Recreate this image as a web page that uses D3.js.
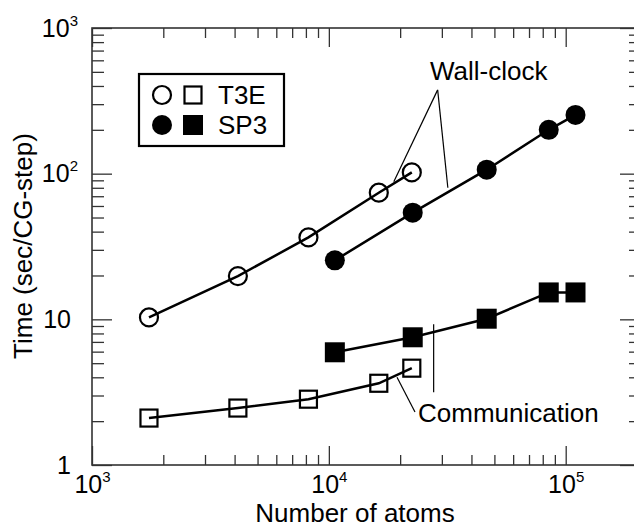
<!DOCTYPE html>
<html>
<head>
<meta charset="utf-8">
<script src="https://cdn.jsdelivr.net/npm/d3@7"></script>
<style>
  body { margin: 0; background: #fff; }
  text { font-family: "Liberation Sans", Arial, Helvetica, sans-serif; fill: #000; }
</style>
</head>
<body>
<div id="chart"></div>
<script>
// data
const t3eAtoms = [1740, 4130, 8200, 16250, 22400];
const t3eWall = [10.3, 19.8, 36.5, 74, 102];
const t3eComm = [2.1, 2.46, 2.83, 3.64, 4.62];
const sp3Atoms = [10600, 22600, 46400, 84800, 110000];
const sp3Wall = [25.4, 54, 106.5, 200, 253];
const sp3Comm = [5.94, 7.53, 10.1, 15.3, 15.3];
const xMajor = [1e3, 1e4, 1e5];
const yMajor = [1, 10, 100, 1000];
const legendNames = ["T3E", "SP3"];

const W = 634, H = 529;
const margin = {top: 28, right: -3, bottom: 64, left: 92};
const width = W - margin.left - margin.right,
      height = H - margin.top - margin.bottom;

const svg = d3.select("#chart").append("svg")
    .attr("width", W).attr("height", H)
    .style("display", "block");

const g = svg.append("g")
    .attr("transform", `translate(${margin.left},${margin.top})`);

const x = d3.scaleLog().domain([1e3, 2e5]).range([0, width]);
const y = d3.scaleLog().domain([1, 1000]).range([height, 0]);

// minor ticks 2..9 for every decade
function minors(lo, hi) {
    const out = [];
    for (let p = lo; p < hi; p *= 10)
        for (let k = 2; k <= 9; k++) out.push(k * p);
    return out;
}
const xMinor = minors(1e3, 1e5).concat([2e5]);
const yMinor = minors(1, 1000);

function styleAxis(sel) {
    sel.select(".domain").remove();
    sel.selectAll(".tick line").attr("stroke", "#333").attr("stroke-width", 1.3);
}

function powLabel(d) {
    const e = Math.round(Math.log10(d));
    return e;
}

// bottom axis
const gx = g.append("g").attr("transform", `translate(0,${height})`)
    .call(d3.axisBottom(x).tickValues(xMajor).tickSize(-19).tickPadding(10).tickFormat(""))
    .call(styleAxis);
gx.selectAll(".tick text").each(function (d) {
    const t = d3.select(this).attr("font-size", 25).attr("font-family", null);
    t.text("10");
    t.append("tspan").attr("font-size", 15).attr("dy", -11).text(powLabel(d));
});
g.append("g").attr("transform", `translate(0,${height})`)
    .call(d3.axisBottom(x).tickValues(xMinor).tickSize(-10).tickFormat(""))
    .call(styleAxis);

// top axis
g.append("g")
    .call(d3.axisTop(x).tickValues(xMajor).tickSize(-19).tickFormat(""))
    .call(styleAxis);
g.append("g")
    .call(d3.axisTop(x).tickValues(xMinor).tickSize(-10).tickFormat(""))
    .call(styleAxis);

// left axis
const gy = g.append("g")
    .call(d3.axisLeft(y).tickValues(yMajor).tickSize(-20).tickPadding(21).tickFormat(""))
    .call(styleAxis);
gy.selectAll(".tick text").each(function (d) {
    const t = d3.select(this).attr("font-size", 25).attr("font-family", null);
    if (d < 100) {
        t.text(d);
    } else {
        t.attr("x", -14).text("10");
        t.append("tspan").attr("font-size", 15).attr("dy", -11).text(powLabel(d));
    }
});
g.append("g")
    .call(d3.axisLeft(y).tickValues(yMinor).tickSize(-12).tickFormat(""))
    .call(styleAxis);

// right axis
g.append("g").attr("transform", `translate(${width},0)`)
    .call(d3.axisRight(y).tickValues(yMajor).tickSize(-17).tickFormat(""))
    .call(styleAxis);
g.append("g").attr("transform", `translate(${width},0)`)
    .call(d3.axisRight(y).tickValues(yMinor).tickSize(-8).tickFormat(""))
    .call(styleAxis);

// frame
g.append("rect")
    .attr("width", width).attr("height", height)
    .attr("fill", "none").attr("stroke", "#333").attr("stroke-width", 1.6);

// series
const series = [
    {atoms: t3eAtoms, vals: t3eWall, shape: "circle", filled: false},
    {atoms: t3eAtoms, vals: t3eComm, shape: "square", filled: false},
    {atoms: sp3Atoms, vals: sp3Wall, shape: "circle", filled: true},
    {atoms: sp3Atoms, vals: sp3Comm, shape: "square", filled: true}
];

const line = d3.line().x(d => x(d[0])).y(d => y(d[1]));

function drawMarker(sel, shape, filled) {
    if (shape === "circle") {
        sel.append("circle")
            .attr("r", filled ? 10 : 9)
            .attr("fill", filled ? "#000" : "none")
            .attr("stroke", "#000")
            .attr("stroke-width", filled ? 0 : 2.2);
    } else {
        const s = filled ? 20 : 17;
        sel.append("rect")
            .attr("x", -s / 2).attr("y", -s / 2)
            .attr("width", s).attr("height", s)
            .attr("fill", filled ? "#000" : "none")
            .attr("stroke", "#000")
            .attr("stroke-width", filled ? 0 : 2.2);
    }
}

series.forEach(s => {
    const pts = s.atoms.map((a, i) => [a, s.vals[i]]);
    g.append("path").datum(pts)
        .attr("d", line)
        .attr("fill", "none").attr("stroke", "#000").attr("stroke-width", 2.5);
    g.selectAll(null).data(pts).enter().append("g")
        .attr("transform", d => `translate(${x(d[0])},${y(d[1])})`)
        .each(function () { drawMarker(d3.select(this), s.shape, s.filled); });
});

// annotations (leader lines in data units)
const wallLeaders = [[[28800, 376], [18800, 88]], [[28800, 376], [31800, 80]]];
const commLeaders = [[[23100, 2.31], [19400, 4.0]], [[27700, 3.16], [27700, 9.25]]];
wallLeaders.concat(commLeaders).forEach(l => {
    g.append("path").datum(l).attr("d", line)
        .attr("fill", "none").attr("stroke", "#000").attr("stroke-width", 1.2);
});
svg.append("text").attr("x", 430).attr("y", 80).attr("font-size", 26).text("Wall-clock");
svg.append("text").attr("x", 418).attr("y", 422).attr("font-size", 26).text("Communication");

// legend
const lg = svg.append("g").attr("transform", "translate(139,74)");
lg.append("rect").attr("width", 145).attr("height", 72)
    .attr("fill", "#fff").attr("stroke", "#000").attr("stroke-width", 2.2);
legendNames.forEach((name, i) => {
    const row = lg.append("g").attr("transform", `translate(0,${21 + i * 30})`);
    drawMarker(row.append("g").attr("transform", "translate(23,0)"), "circle", i === 1);
    drawMarker(row.append("g").attr("transform", "translate(54,0)"), "square", i === 1);
    row.append("text").attr("x", 79).attr("y", 9).attr("font-size", 26).text(name);
});

// axis titles
svg.append("text")
    .attr("x", 355).attr("y", 522).attr("text-anchor", "middle").attr("font-size", 26)
    .text("Number of atoms");
svg.append("text")
    .attr("transform", "translate(32,246) rotate(-90)")
    .attr("text-anchor", "middle").attr("font-size", 26)
    .text("Time (sec/CG-step)");
</script>
</body>
</html>
